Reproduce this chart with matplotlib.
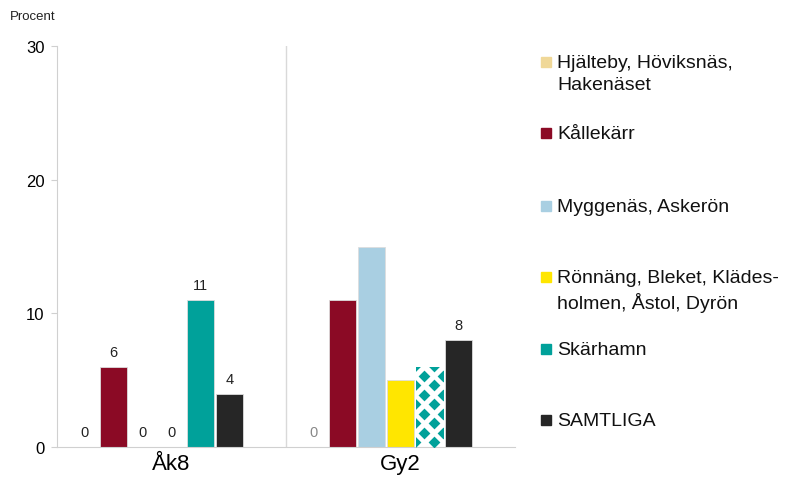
import numpy as np
import matplotlib.pyplot as plt
from matplotlib.patches import Rectangle

groups = ["Åk8", "Gy2"]
series = ["Hjälteby, Höviksnäs,\nHakenäset", "Kållekärr", "Myggenäs, Askerön",
          "Rönnäng, Bleket, Klädes-\nholmen, Åstol, Dyrön", "Skärhamn", "SAMTLIGA"]
colors = ["#f0d898", "#8b0a25", "#a9cfe2", "#ffe600", "#00a19a", "#262626"]
values = {
    "Åk8": [0, 6, 0, 0, 11, 4],
    "Gy2": [0, 11, 15, 5, 6, 8],
}
# labels printed above bars (None = no label)
bar_labels = {
    "Åk8": ["0", "6", "0", "0", "11", "4"],
    "Gy2": ["0", None, None, None, None, "8"],
}
label_gray = {"Åk8": [False] * 6, "Gy2": [True, False, False, False, False, False]}
patterned = {"Åk8": [False] * 6, "Gy2": [False, False, False, False, True, False]}

plt.rcParams["font.family"] = ["Liberation Sans", "DejaVu Sans"]

fig = plt.figure(figsize=(8, 4.89), dpi=100)
ax = fig.add_axes([57 / 800, 1 - 448 / 489, (515 - 57) / 800, (448 - 47) / 489])
ax.set_xlim(-0.5, 1.5)
ax.set_ylim(0, 30)

w = 0.126
for gi, g in enumerate(groups):
    for si in range(len(series)):
        x = gi + (si - 3) * w
        v = values[g][si]
        if patterned[g][si]:
            bar = ax.bar(x, v, width=w * 0.95, color="white", linewidth=0)[0]
            # diamond checker pattern, clipped to the bar
            dx = 19 / 229.0
            dy = 9.5 * 30 / 401.0
            pts = []
            for r, yy in enumerate(np.arange(dy / 2, v + dy, dy)):
                off = 0 if r % 2 == 0 else dx / 2
                for xx in np.arange(x - w / 2 - dx + off, x + w / 2 + dx, dx):
                    pts.append((xx, yy))
            pts = np.array(pts)
            sc = ax.scatter(pts[:, 0], pts[:, 1], marker="D", s=36, color=colors[si],
                            linewidths=0, zorder=3)
            sc.set_clip_path(bar)
        else:
            ax.bar(x, v, width=w * 0.95, color=colors[si], edgecolor="#dddddd", linewidth=0.6)
        lab = bar_labels[g][si]
        if lab is not None:
            ax.text(x, v + 0.6, lab, ha="center", va="bottom", fontsize=10.5,
                    color="#888888" if label_gray[g][si] else "#222222")

ax.set_yticks([0, 10, 20, 30])
ax.set_xticks([0, 1])
ax.set_xticklabels(groups, fontsize=16)
ax.tick_params(axis="x", length=0, pad=4)
ax.tick_params(axis="y", labelsize=12, length=4, color="#d0d0d0", pad=5)
for s in ["top", "right"]:
    ax.spines[s].set_visible(False)
ax.spines["left"].set_color("#d0d0d0")
ax.spines["bottom"].set_color("#d0d0d0")
ax.axvline(0.5, color="#d9d9d9", linewidth=1)

fig.text(10 / 800, 1 - 17 / 489, "Procent", fontsize=9.5, va="center", color="#222222")

# legend
leg_y = [63, 134, 207, 278, 350, 421]
for si, lab in enumerate(series):
    yy = 1 - leg_y[si] / 489
    fig.patches.append(Rectangle((541 / 800, yy - 5 / 489), 10 / 800, 10 / 489,
                                 transform=fig.transFigure, color=colors[si]))
    fig.text(557 / 800, yy + 8 / 489, lab, fontsize=14, va="top", ha="left",
             linespacing=1.4, color="#111111")

fig.savefig("out.png", dpi=100)
